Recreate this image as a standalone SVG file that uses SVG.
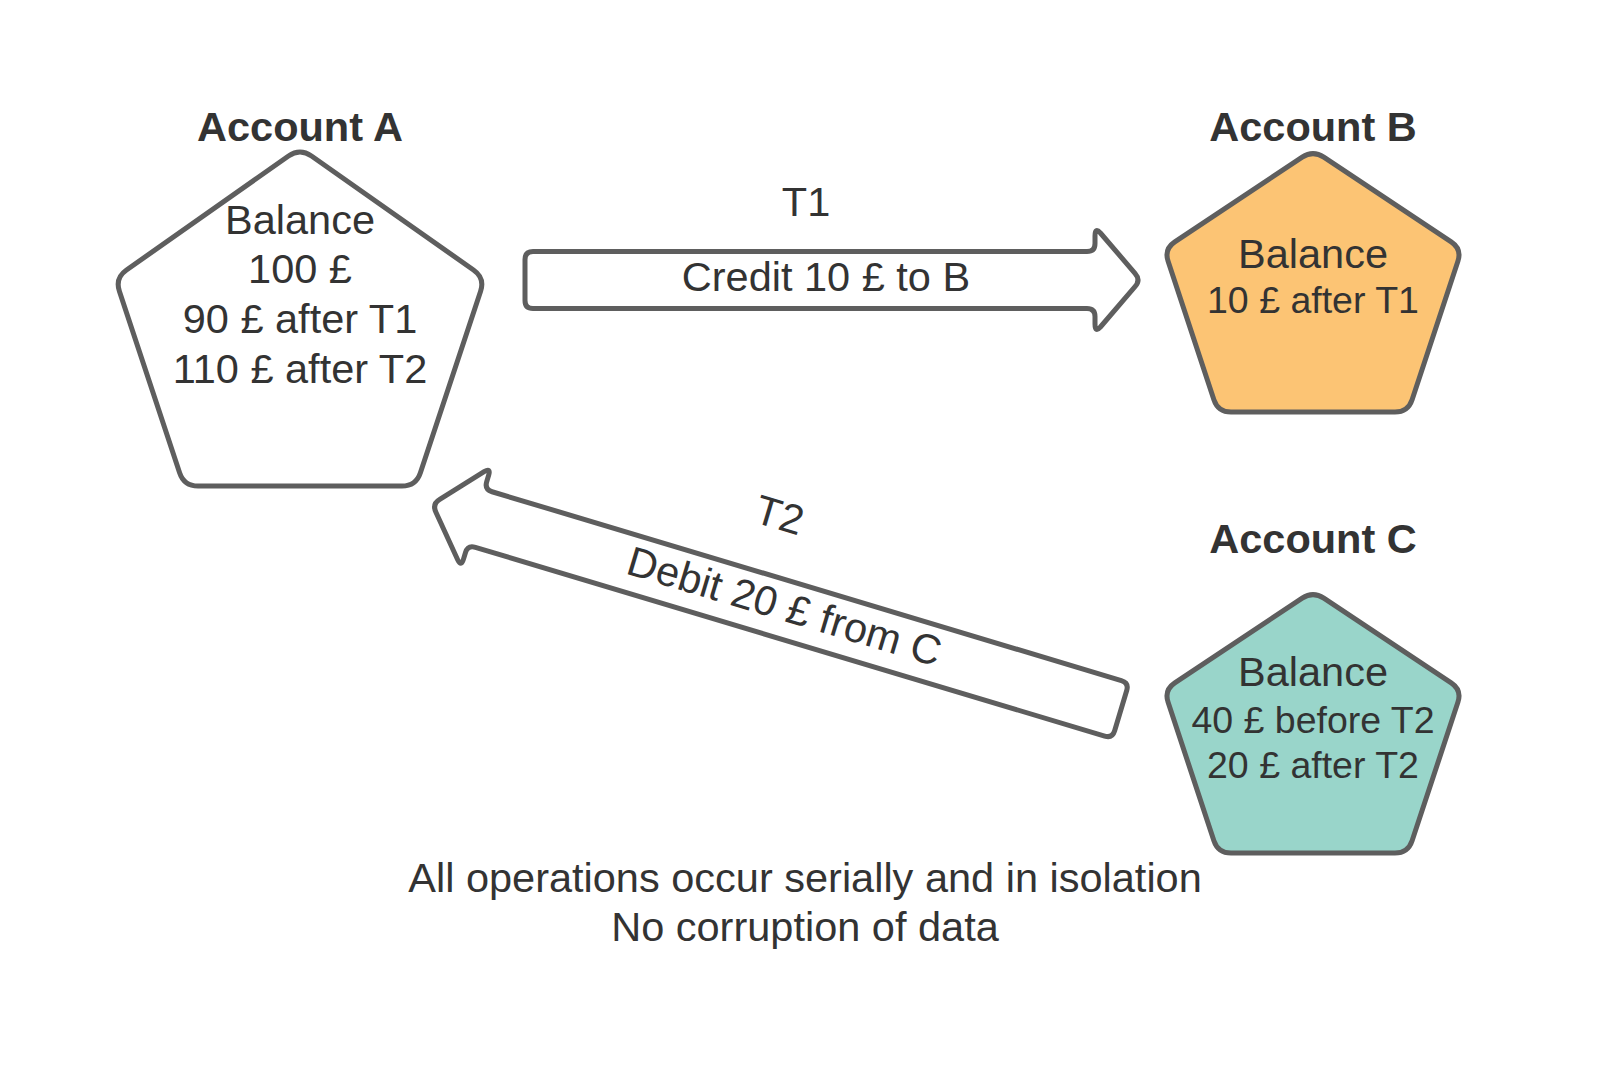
<svg xmlns="http://www.w3.org/2000/svg" width="1613" height="1069" viewBox="0 0 1613 1069">
<style>
.shape{stroke:#5e5e5e;stroke-width:5;stroke-linejoin:round}
.t{font-family:"Liberation Sans",Arial,sans-serif;fill:#333333;text-anchor:middle}
.title{font-size:41.5px;font-weight:bold}
.body{font-size:41.5px}
.small{font-size:37.5px}
</style>
<rect width="1613" height="1069" fill="#ffffff"/>
<g id="connectors">
<g id="t1">
<path class="shape" fill="#ffffff" d="M 525,259.5 Q 525,251.5 533,251.5 L 1087,251.5 Q 1095,251.5 1095,243.5 L 1095,236 Q 1095,227 1100.4,233 L 1135,273.3 Q 1141,280 1135,286.7 L 1100.4,327 Q 1095,333 1095,324 L 1095,316.5 Q 1095,308.5 1087,308.5 L 533,308.5 Q 525,308.5 525,300.5 Z"/>
<text class="t body" x="806" y="216">T1</text>
<text class="t body" x="826" y="291">Credit 10 £ to B</text>
</g>
<g id="t2" transform="translate(432,504) rotate(16.7)">
<path class="shape" fill="#ffffff" d="M 6.1,-6.7 L 40.6,-46 Q 46,-52 46,-44 L 46,-37 Q 46,-29 54,-29 L 711,-29 Q 719,-29 719,-21 L 719,21 Q 719,29 711,29 L 54,29 Q 46,29 46,37 L 46,44 Q 46,52 40.6,46 L 6.1,6.7 Q 0,0 6.1,-6.7 Z"/>
<text class="t body" x="336" y="-75">T2</text>
<text class="t body" x="367" y="11">Debit 20 £ from C</text>
</g>
</g>
<g id="account-a">
<path class="shape" fill="#ffffff" d="M 288.5,156 Q 300,148 311.5,156 L 473.5,270 Q 485,278 480.6,291.3 L 420.4,472.7 Q 416,486 402,486 L 198,486 Q 184,486 179.6,472.7 L 119.4,291.3 Q 115,278 126.5,270 Z"/>
<text class="t title" x="300" y="141">Account A</text>
<text class="t body" x="300" y="234">Balance</text>
<text class="t body" x="300" y="283">100 £</text>
<text class="t body" x="300" y="333">90 £ after T1</text>
<text class="t body" x="300" y="383">110 £ after T2</text>
</g>
<g id="account-b">
<path class="shape" fill="#fcc474" d="M1302.2,157.2 Q1313,150 1323.8,157.2 L1451.2,241.8 Q1462,249 1457.9,261.3 L1412.1,399.7 Q1408,412 1395,412 L1231,412 Q1218,412 1213.9,399.7 L1168.1,261.3 Q1164,249 1174.8,241.8 Z"/>
<text class="t title" x="1313" y="141">Account B</text>
<text class="t body" x="1313" y="268">Balance</text>
<text class="t small" x="1313" y="313">10 £ after T1</text>
</g>
<g id="account-c">
<path class="shape" fill="#99d5ca" d="M1302.2,598.2 Q1313,591 1323.8,598.2 L1451.2,682.8 Q1462,690 1457.9,702.3 L1412.1,840.7 Q1408,853 1395,853 L1231,853 Q1218,853 1213.9,840.7 L1168.1,702.3 Q1164,690 1174.8,682.8 Z"/>
<text class="t title" x="1313" y="553">Account C</text>
<text class="t body" x="1313" y="686">Balance</text>
<text class="t small" x="1313" y="733">40 £ before T2</text>
<text class="t small" x="1313" y="778">20 £ after T2</text>
</g>
<g id="note">
<text class="t body" x="805" y="892">All operations occur serially and in isolation</text>
<text class="t body" x="805" y="941">No corruption of data</text>
</g>
</svg>
